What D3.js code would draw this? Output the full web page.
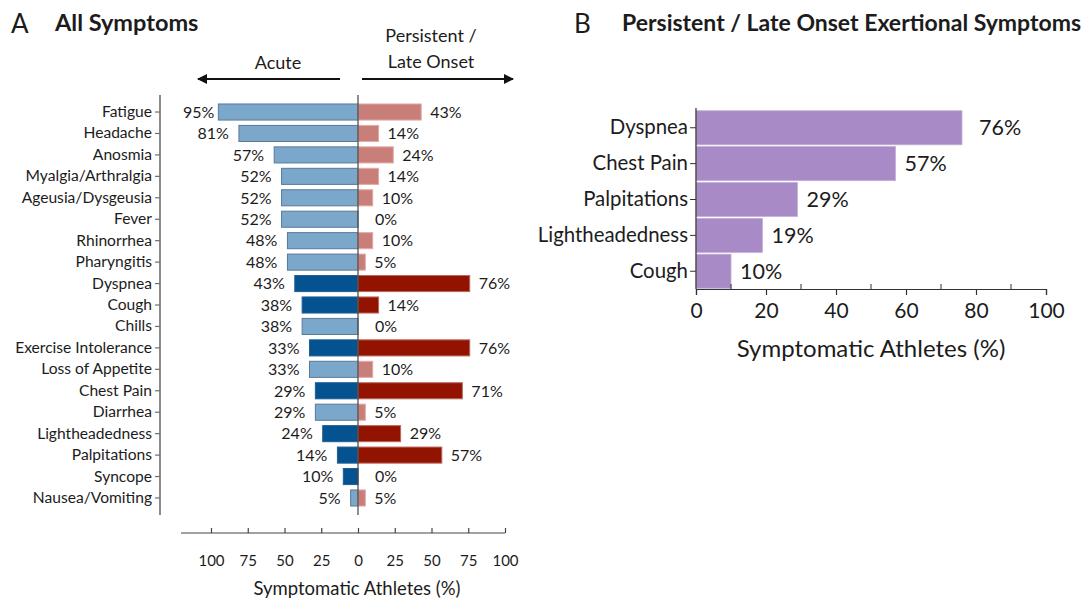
<!DOCTYPE html>
<html><head><meta charset="utf-8">
<script src="https://cdn.jsdelivr.net/npm/d3@7"></script>
<style>
body{margin:0;background:#fff;}
svg{display:block;font-family:Lato,"Open Sans",sans-serif;}
</style></head>
<body><svg id="c" width="1086" height="598"></svg>
<script>
// ---- Panel A data ----
const symptoms = ["Fatigue","Headache","Anosmia","Myalgia/Arthralgia","Ageusia/Dysgeusia","Fever","Rhinorrhea","Pharyngitis","Dyspnea","Cough","Chills","Exercise Intolerance","Loss of Appetite","Chest Pain","Diarrhea","Lightheadedness","Palpitations","Syncope","Nausea/Vomiting"];
const acute = [95,81,57,52,52,52,48,48,43,38,38,33,33,29,29,24,14,10,5];
const persistent = [43,14,24,14,10,0,10,5,76,14,0,76,10,71,5,29,57,0,5];
const exertional = [false,false,false,false,false,false,false,false,true,true,false,true,false,true,false,true,true,true,false];
const axisTicksA = [-100,-75,-50,-25,0,25,50,75,100];
// ---- Panel B data ----
const exSymptoms = ["Dyspnea","Chest Pain","Palpitations","Lightheadedness","Cough"];
const exValues = [76,57,29,19,10];
const axisTicksB = [0,20,40,60,80,100];
const minorTicksB = [10,30,50,70,90];

const svg = d3.select("#c");
const ink = "#1c1c1c";
const axisCol = "#6e6e6e";

// ================= Panel A =================
const A = svg.append("g");
A.append("text").attr("x",11).attr("y",33).attr("font-size",26).attr("fill",ink).text("A");
A.append("text").attr("x",55).attr("y",31).attr("font-size",23.5).attr("font-weight",700).attr("fill",ink).text("All Symptoms");

const cx = 358;
const xL = d3.scaleLinear().domain([0,100]).range([cx, cx-147]);
const xR = d3.scaleLinear().domain([0,100]).range([cx, cx+147]);
const xAll = d3.scaleLinear().domain([-100,100]).range([cx-147, cx+147]);
const yA = d3.scaleBand().domain(symptoms).range([101.3,508.7]).paddingInner(0.25).paddingOuter(0.125);

// header arrows
A.append("text").attr("x",278).attr("y",69).attr("text-anchor","middle").attr("font-size",18).attr("fill",ink).text("Acute");
A.append("text").attr("x",431).attr("y",42).attr("text-anchor","middle").attr("font-size",18).attr("fill",ink).text("Persistent /");
A.append("text").attr("x",431).attr("y",68).attr("text-anchor","middle").attr("font-size",18).attr("fill",ink).text("Late Onset");
const defs = svg.append("defs");
defs.append("marker").attr("id","ah").attr("viewBox","0 0 10 10").attr("refX",9).attr("refY",5)
  .attr("markerWidth",5.5).attr("markerHeight",5).attr("orient","auto-start-reverse").attr("markerUnits","strokeWidth")
  .append("path").attr("d","M0,0L10,5L0,10Z").attr("fill","#111");
A.append("line").attr("x1",340).attr("x2",198).attr("y1",79).attr("y2",79).attr("stroke","#111").attr("stroke-width",2).attr("marker-end","url(#ah)");
A.append("line").attr("x1",362).attr("x2",513).attr("y1",79).attr("y2",79).attr("stroke","#111").attr("stroke-width",2).attr("marker-end","url(#ah)");

const rowsA = symptoms.map((s,i)=>({s, a:acute[i], p:persistent[i], ex:exertional[i]}));

// acute bars
A.selectAll("rect.ac").data(rowsA).join("rect").attr("class","ac")
  .attr("x",d=>xL(d.a)).attr("width",d=>xL(0)-xL(d.a))
  .attr("y",d=>yA(d.s)).attr("height",yA.bandwidth())
  .attr("fill",d=>d.ex?"#04528f":"#7ba7cb")
  .attr("stroke",d=>d.ex?"#1d5f96":"#58799a").attr("stroke-width",1);
// persistent bars
A.selectAll("rect.pe").data(rowsA.filter(d=>d.p>0)).join("rect").attr("class","pe")
  .attr("x",cx).attr("width",d=>xR(d.p)-cx)
  .attr("y",d=>yA(d.s)).attr("height",yA.bandwidth())
  .attr("fill",d=>d.ex?"#921400":"#c97f79")
  .attr("stroke",d=>d.ex?"#b86a60":"#e2aaa5").attr("stroke-width",1);

// value labels
A.selectAll("text.al").data(rowsA).join("text").attr("class","al")
  .attr("x",d=>xL(d.a)-(d.a>90?4:10)).attr("y",d=>yA(d.s)+yA.bandwidth()/2).attr("dy","0.36em")
  .attr("text-anchor","end").attr("font-size",16).attr("fill",ink).text(d=>d.a+"%");
A.selectAll("text.pl").data(rowsA).join("text").attr("class","pl")
  .attr("x",d=>xR(d.p)+(d.p===0?17:9)).attr("y",d=>yA(d.s)+yA.bandwidth()/2).attr("dy","0.36em")
  .attr("text-anchor","start").attr("font-size",16).attr("fill",ink).text(d=>d.p+"%");

// center line
A.append("line").attr("x1",cx).attr("x2",cx).attr("y1",95).attr("y2",515).attr("stroke","#444").attr("stroke-width",1.2);

// left axis
const gLA = A.append("g").attr("transform","translate(160,0)")
  .call(d3.axisLeft(yA).tickSize(5).tickPadding(3));
gLA.select(".domain").remove();
gLA.selectAll(".tick line").attr("stroke",axisCol).attr("stroke-width",1.2);
gLA.selectAll(".tick text").attr("font-size",15.6).attr("fill",ink).attr("font-family","Lato");
A.append("line").attr("x1",160).attr("x2",160).attr("y1",95).attr("y2",515).attr("stroke",axisCol).attr("stroke-width",1.6);

// bottom axis
const gBA = A.append("g").attr("transform","translate(0,533)")
  .call(d3.axisBottom(xAll).tickValues(axisTicksA).tickSize(-5).tickPadding(22).tickFormat(d=>Math.abs(d)));
gBA.select(".domain").remove();
gBA.selectAll(".tick line").attr("stroke","#444").attr("stroke-width",1.2);
gBA.selectAll(".tick text").attr("font-size",15).attr("fill",ink).attr("font-family","Lato");
A.append("line").attr("x1",181).attr("x2",xAll(100)).attr("y1",533).attr("y2",533).attr("stroke","#444").attr("stroke-width",1.2);
A.append("text").attr("x",357).attr("y",595).attr("text-anchor","middle").attr("font-size",18.5).attr("fill",ink).text("Symptomatic Athletes (%)");

// ================= Panel B =================
const B = svg.append("g");
B.append("text").attr("x",574).attr("y",33).attr("font-size",26).attr("fill",ink).text("B");
B.append("text").attr("x",622).attr("y",31).attr("font-size",23).attr("font-weight",700).attr("fill",ink).text("Persistent / Late Onset Exertional Symptoms");

const xB = d3.scaleLinear().domain([0,100]).range([696,1046]);
const yB = d3.scaleBand().domain(exSymptoms).range([110,289]).paddingInner(0.05).paddingOuter(0.02);

B.selectAll("rect.b").data(exSymptoms.map((s,i)=>({s,v:exValues[i]}))).join("rect").attr("class","b")
  .attr("x",xB(0)).attr("width",d=>xB(d.v)-xB(0))
  .attr("y",d=>yB(d.s)).attr("height",yB.bandwidth())
  .attr("fill","#a88bc6").attr("stroke","#c4b0da").attr("stroke-width",0.8);
B.selectAll("text.bl").data(exSymptoms.map((s,i)=>({s,v:exValues[i]}))).join("text").attr("class","bl")
  .attr("x",d=>xB(d.v)+(d.v>70?17:9)).attr("y",d=>yB(d.s)+yB.bandwidth()/2).attr("dy","0.36em")
  .attr("font-size",21.5).attr("fill",ink).text(d=>d.v+"%");

const gLB = B.append("g").attr("transform","translate(696,0)")
  .call(d3.axisLeft(yB).tickSize(6).tickPadding(2));
gLB.select(".domain").remove();
gLB.selectAll(".tick line").attr("stroke","#333").attr("stroke-width",1);
gLB.selectAll(".tick text").attr("font-size",20.4).attr("fill",ink).attr("font-family","Lato");
B.append("line").attr("x1",696).attr("x2",696).attr("y1",108).attr("y2",289).attr("stroke","#333").attr("stroke-width",1.2);

const gBB = B.append("g").attr("transform","translate(0,289)")
  .call(d3.axisBottom(xB).tickValues(axisTicksB).tickSize(6).tickPadding(8));
gBB.select(".domain").attr("stroke","#333").attr("stroke-width",1.2);
gBB.selectAll(".tick line").attr("stroke","#333").attr("stroke-width",1.2);
gBB.selectAll(".tick text").attr("font-size",21).attr("fill",ink).attr("font-family","Lato");
B.append("g").selectAll("line").data(minorTicksB).join("line")
  .attr("x1",d=>xB(d)).attr("x2",d=>xB(d)).attr("y1",284).attr("y2",289).attr("stroke","#333").attr("stroke-width",1);
B.append("text").attr("x",871).attr("y",357).attr("text-anchor","middle").attr("font-size",24).attr("fill",ink).text("Symptomatic Athletes (%)");
</script></body></html>
